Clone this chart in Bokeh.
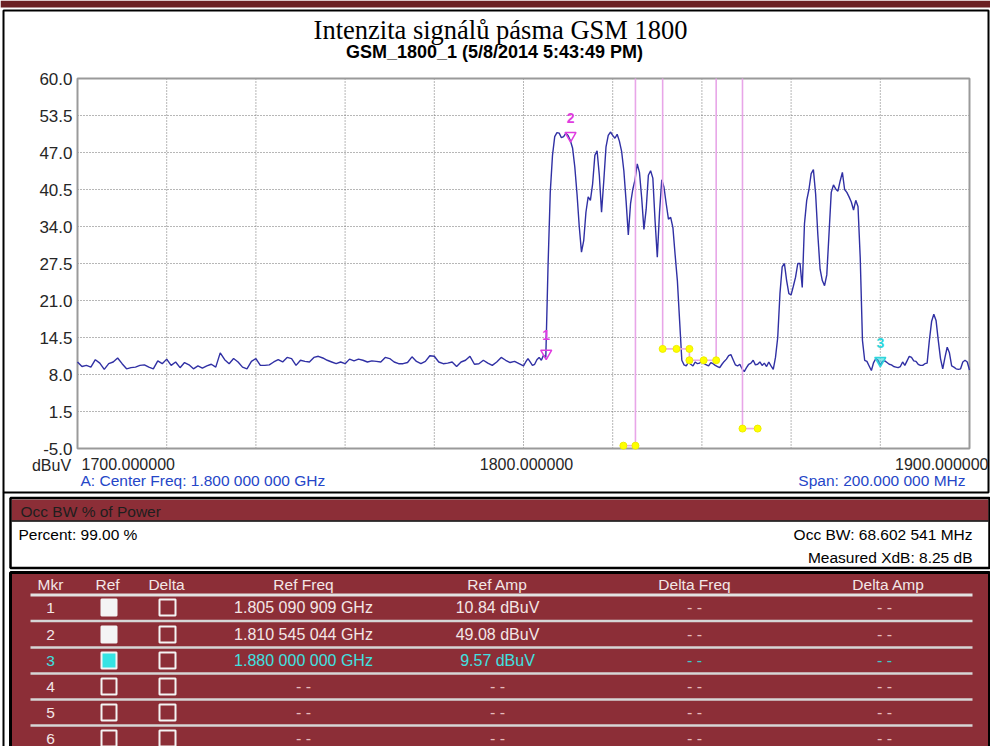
import numpy as np
from bokeh.plotting import figure
from bokeh.models import Range1d
from bokeh.core.properties import value
from bokeh.embed import file_html
from bokeh.resources import INLINE

# ---------------- data ----------------
title_text = "Intenzita signálů pásma GSM 1800"
subtitle_text = "GSM_1800_1 (5/8/2014 5:43:49 PM)"
y_unit_text = "dBuV"
center_text = "A: Center Freq: 1.800 000 000 GHz"
span_text = "Span: 200.000 000 MHz"

f_start, f_stop = 1700.0, 1900.0
a_min, a_max = -5.0, 60.0
y_ticks = [-5.0, 1.5, 8.0, 14.5, 21.0, 27.5, 34.0, 40.5, 47.0, 53.5, 60.0]
x_grid = [1700, 1720, 1740, 1760, 1780, 1800, 1820, 1840, 1860, 1880, 1900]
x_label_freqs = [1700, 1800, 1900]
x_labels = ["1700.000000", "1800.000000", "1900.000000"]

# trace, 1 MHz steps 1700..1799
amp_1700_1799 = [
    10.2, 9.4, 9.6, 9.3, 10.6, 10.0, 8.9, 9.9, 10.2, 10.9,
    9.9, 9.0, 9.2, 9.3, 9.6, 9.7, 9.3, 9.0, 10.4, 9.9,
    10.7, 9.6, 10.2, 9.2, 10.1, 9.7, 9.0, 9.5, 9.1, 9.5,
    9.8, 9.3, 11.8, 10.6, 9.9, 10.8, 10.2, 9.3, 9.0, 10.3,
    10.8, 9.6, 9.6, 9.7, 10.2, 10.6, 10.2, 11.0, 10.8, 9.6,
    10.5, 10.3, 10.2, 11.0, 11.2, 10.9, 10.5, 10.2, 9.9, 10.2,
    9.9, 10.7, 10.4, 10.7, 10.5, 10.2, 10.4, 10.3, 10.2, 11.0,
    10.8, 10.2, 9.9, 9.9, 10.1, 11.1, 10.3, 9.9, 10.3, 11.3,
    11.2, 10.2, 9.9, 10.0, 10.2, 9.4, 10.2, 10.5, 11.2, 9.8,
    9.9, 10.5, 10.0, 9.6, 10.2, 11.0, 10.5, 10.1, 10.3, 9.9,
]
# trace, 0.5 MHz steps 1800..1900
amp_1800_1900 = [
    9.5, 10.2, 10.8, 10.2, 9.6, 9.8, 10.6, 11.0, 10.5, 11.4,
    11.0, 27.0, 40.0, 46.5, 49.8, 50.5, 50.4, 49.6, 49.8, 50.4,
    50.0, 49.1, 47.8, 44.5, 39.7, 34.0, 29.5, 31.5, 36.5, 39.2,
    38.6, 41.5, 46.5, 47.3, 43.0, 36.5, 42.0, 48.0, 50.0, 50.6,
    50.0, 49.5, 50.2, 49.0, 47.2, 43.8, 38.5, 32.5, 38.0, 40.5,
    42.2, 45.0, 43.5, 39.0, 33.5, 37.0, 43.0, 43.8, 42.5, 35.0,
    28.6, 36.5, 42.2, 40.9, 38.0, 35.3, 35.6, 33.8, 29.0, 24.5,
    17.5, 10.5, 9.7, 9.5, 10.2, 9.8, 9.5, 10.2, 9.9, 10.0,
    10.5, 9.9, 9.7, 9.5, 10.1, 9.9, 9.6, 9.4, 9.2, 9.8,
    10.3, 10.7, 11.3, 11.5, 10.6, 9.7, 9.5, 9.8, 9.0, 8.5,
    9.2, 9.8, 10.0, 10.5, 9.7, 9.8, 10.2, 9.6, 10.0, 9.4,
    10.2, 9.5, 8.9, 11.0, 14.5, 22.2, 26.9, 27.5, 24.5, 22.2,
    22.0, 23.5, 25.1, 27.5, 27.5, 23.3, 34.5, 38.6, 40.5, 43.3,
    44.0, 39.7, 32.5, 26.5, 24.5, 23.6, 25.5, 32.7, 40.0, 41.3,
    40.6, 40.2, 42.0, 43.5, 40.5, 40.0, 39.2, 38.3, 36.9, 38.6,
    37.5, 28.5, 14.0, 10.5, 10.3, 9.5, 8.7, 10.1, 10.8, 10.5,
    9.6, 10.3, 10.4, 10.1, 9.8, 9.7, 9.4, 9.3, 9.2, 9.4,
    10.2, 9.6, 10.4, 11.2, 11.0, 10.4, 10.3, 9.8, 9.6, 9.6,
    9.9, 10.0, 14.0, 17.3, 18.6, 17.5, 14.0, 10.8, 9.0, 11.0,
    12.8, 11.8, 9.5, 9.3, 9.0, 8.9, 9.0, 10.2, 10.5, 10.2,
    8.8,
]

# markers
mkr_ids = ["1", "2", "3"]
mkr_freq_ghz = [1.805090909, 1.810545044, 1.880000000]
mkr_amp = [10.84, 49.08, 9.57]
mkr_colors = ["#e03ce0", "#e03ce0", "#2fd6dc"]
mkr_fills = [None, None, "#2fd6dc"]

# occupied-bandwidth flags (pink lines + yellow handles)
obw_line_x = [1825.1, 1831.2, 1843.2, 1849.1]
obw_line_y = [-4.5, 12.5, 10.5, -1.5]
obw_seg_x0 = [1822.4, 1831.2, 1837.2, 1837.2, 1849.1]
obw_seg_y0 = [-4.5, 12.5, 12.5, 10.5, -1.5]
obw_seg_x1 = [1825.1, 1837.2, 1837.2, 1843.2, 1852.5]
obw_seg_y1 = [-4.5, 12.5, 10.5, 10.5, -1.5]
obw_dot_x = [1822.4, 1825.1, 1831.2, 1834.3, 1837.2, 1837.2, 1840.4, 1843.2, 1849.1, 1852.5]
obw_dot_y = [-4.5, -4.5, 12.5, 12.5, 12.5, 10.5, 10.5, 10.5, -1.5, -1.5]

# Occ BW panel
occ_header = "Occ BW % of Power"
occ_percent = "Percent: 99.00 %"
occ_bw = "Occ BW: 68.602 541 MHz"
occ_xdb = "Measured XdB: 8.25 dB"

# marker table
tbl_headers = ["Mkr", "Ref", "Delta", "Ref Freq", "Ref Amp", "Delta Freq", "Delta Amp"]
tbl_mkr = ["1", "2", "3", "4", "5", "6"]
tbl_ref_state = ["on", "on", "active", "off", "off", "off"]
tbl_ref_freq = ["1.805 090 909 GHz", "1.810 545 044 GHz", "1.880 000 000 GHz", "- -", "- -", "- -"]
tbl_ref_amp = ["10.84 dBuV", "49.08 dBuV", "9.57 dBuV", "- -", "- -", "- -"]
tbl_delta_freq = ["- -", "- -", "- -", "- -", "- -", "- -"]
tbl_delta_amp = ["- -", "- -", "- -", "- -", "- -", "- -"]

# ---------------- styles / layout ----------------
SANS = "Liberation Sans"
SERIF = "Liberation Serif"
MAROON = "#8c2e37"
W, H = 990, 746
CX0, CX1, CY0, CY1 = 77, 969, 78, 448   # chart frame in page pixels

sx = (f_stop - f_start) / (CX1 - CX0)
sy = (a_max - a_min) / (CY1 - CY0)

p = figure(width=W, height=H, x_range=Range1d(0, W), y_range=Range1d(H, 0),
           output_backend="svg", toolbar_location=None, min_border=0)
p.title.visible = False
p.axis.visible = False
p.grid.visible = False
p.outline_line_color = None
p.background_fill_color = "white"
p.border_fill_color = "white"
p.extra_x_ranges = {"freq": Range1d(f_start - CX0 * sx, f_stop + (W - CX1) * sx)}
p.extra_y_ranges = {"amp": Range1d(a_min - (H - CY1) * sy, a_max + CY0 * sy)}
D = dict(x_range_name="freq", y_range_name="amp")


def txt(x, y, s, size, color="black", align="left", font=SANS, style="normal", **kw):
    p.text(x=x, y=y, text=s, text_font=value(font), text_font_size=size, text_color=color,
           text_align=align, text_baseline="middle", text_font_style=style, **kw)


# app chrome
p.quad(left=[0], right=[W], top=[0], bottom=[7], fill_color="#6b2124", line_color=None)
p.quad(left=[3], right=[988], top=[10], bottom=[492], fill_color=None, line_color="black", line_width=2)
p.segment(x0=[3], y0=[492], x1=[3], y1=[H], line_color="black", line_width=2)

# title
txt([500], [29], [title_text], "26.5px", align="center", font=SERIF)
txt([494], [51], [subtitle_text], "18px", align="center", style="bold")

# chart grid + frame
p.segment(x0=x_grid, y0=[a_min] * len(x_grid), x1=x_grid, y1=[a_max] * len(x_grid),
          line_color="#6e6e6e", line_dash="1 2", line_width=1, **D)
p.segment(x0=[f_start] * len(y_ticks), y0=y_ticks, x1=[f_stop] * len(y_ticks), y1=y_ticks,
          line_color="#6e6e6e", line_dash="1 2", line_width=1, **D)
p.quad(left=[f_start], right=[f_stop], bottom=[a_min], top=[a_max], fill_color=None,
       line_color="#9a9a9a", line_width=2, **D)

# tick labels
txt([f_start] * len(y_ticks), y_ticks, ["%.1f" % v for v in y_ticks], "17px", color="#262626",
    align="right", x_offset=-5, **D)
p.text(x=x_label_freqs, y=[463] * 3, text=x_labels, x_offset=[4, 3, 19],
       text_align=["left", "center", "right"], text_baseline="middle", text_font=value(SANS),
       text_font_size="16px", text_color="#262626", x_range_name="freq")
txt([51], [465], [y_unit_text], "16px", color="#262626", align="center")
txt([80], [480], [center_text], "15.5px", color="#2546c8")
txt([965], [480], [span_text], "15.5px", color="#2546c8", align="right")

# trace
freq = np.concatenate([np.arange(f_start, 1800.0, 1.0), np.arange(1800.0, f_stop + 0.001, 0.5)])
amp = np.array(amp_1700_1799 + amp_1800_1900)
p.line(freq, amp, line_color="#3030a4", line_width=1.4, **D)

# OBW flags
p.segment(x0=obw_line_x, y0=[a_max] * len(obw_line_x), x1=obw_line_x, y1=obw_line_y,
          line_color="#e8a6e8", line_width=1.6, **D)
p.segment(x0=obw_seg_x0, y0=obw_seg_y0, x1=obw_seg_x1, y1=obw_seg_y1,
          line_color="#e8a6e8", line_width=1.6, **D)
p.scatter(obw_dot_x, obw_dot_y, size=7, fill_color="#ffff00", line_color="#eeee00", **D)

# markers
mx = [v * 1000 for v in mkr_freq_ghz]
p.scatter(mx, [a + 5 * sy for a in mkr_amp], marker="inverted_triangle", size=11,
          fill_color=mkr_fills, fill_alpha=0.55, line_color=mkr_colors, line_width=1.5, **D)
txt(mx, [a + 23 * sy for a in mkr_amp], mkr_ids, "14px", color=mkr_colors, align="center",
    style="bold", **D)

# ---------------- Occ BW panel ----------------
p.quad(left=[11], right=[988], top=[499], bottom=[520], fill_color=MAROON, line_color=None)
p.segment(x0=[11], y0=[520.5], x1=[988], y1=[520.5], line_color="black", line_width=1.5)
p.quad(left=[10], right=[989], top=[497.5], bottom=[567.5], fill_color=None, line_color="black",
       line_width=2.5)
txt([20], [511], [occ_header], "15.5px", color="#1e1e1e")
txt([18], [534], [occ_percent], "15.5px")
txt([972, 972], [534, 557], [occ_bw, occ_xdb], "15.5px", align="right")

# ---------------- marker table ----------------
p.quad(left=[10], right=[989], top=[572], bottom=[H + 6], fill_color=MAROON, line_color="black",
       line_width=3)
col_x = [50, 107, 166, 303, 497, 694, 888]
txt(col_x, [584] * len(col_x), tbl_headers, "15.5px", color="#f3e6e6", align="center")
p.segment(x0=[30], y0=[594.5], x1=[972], y1=[594.5], line_color="#e2e2e2", line_width=3)
row_y = [607, 634, 660, 686, 712, 738]
sep_y = [620.5, 647, 673, 699, 725]
p.segment(x0=[30] * len(sep_y), y0=sep_y, x1=[972] * len(sep_y), y1=sep_y, line_color="#d6d6d6",
          line_width=2.5)
txt_col = ["#40e0e0" if s == "active" else "#f3e6e6" for s in tbl_ref_state]
dash_col = ["#40c8c8" if s == "active" else "#e6bcbc" for s in tbl_ref_state]
ref_txt_col = [c if f != "- -" else d for c, d, f in zip(txt_col, dash_col, tbl_ref_freq)]
txt([col_x[0]] * 6, row_y, tbl_mkr, "15.5px", color=txt_col, align="center")
txt([col_x[3]] * 6, row_y, tbl_ref_freq, "16px", color=ref_txt_col, align="center")
txt([col_x[4]] * 6, row_y, tbl_ref_amp, "16px", color=ref_txt_col, align="center")
txt([col_x[5]] * 6, row_y, tbl_delta_freq, "16px", color=dash_col, align="center")
txt([col_x[6] - 4] * 6, row_y, tbl_delta_amp, "16px", color=dash_col, align="center")
ref_fill = {"on": "#f4f4f4", "active": "#35e3e3", "off": None}
ref_fills = [ref_fill[s] for s in tbl_ref_state]
p.quad(left=[101] * 6, right=[116] * 6, top=[y - 8 for y in row_y], bottom=[y + 8 for y in row_y],
       fill_color=ref_fills, line_color="#f4f4f4", line_width=2)
p.quad(left=[159] * 6, right=[175] * 6, top=[y - 8 for y in row_y], bottom=[y + 8 for y in row_y],
       fill_color=None, line_color="#f4f4f4", line_width=2)

open("out.html", "w").write(file_html(p, INLINE))
